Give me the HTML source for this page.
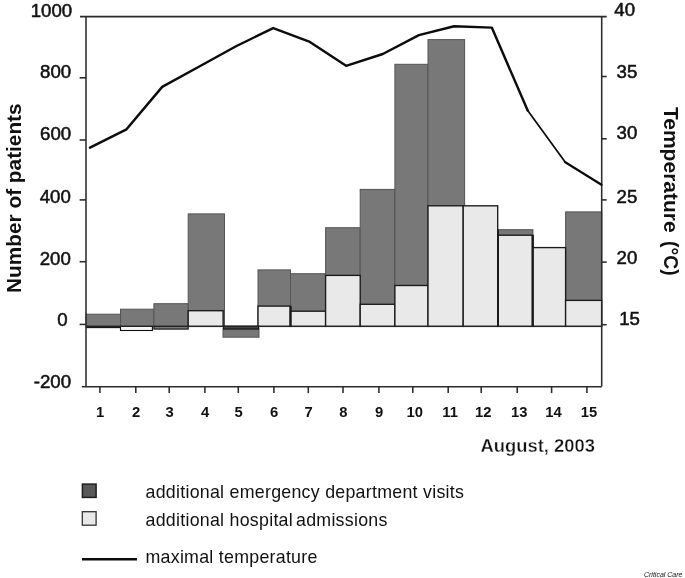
<!DOCTYPE html>
<html lang="en"><head><meta charset="utf-8"><title>Heat wave August 2003</title>
<style>html,body{margin:0;padding:0;background:#fff}svg{display:block;will-change:transform}text{font-family:"Liberation Sans",sans-serif;fill:#111}</style>
</head><body>
<svg width="685" height="578" viewBox="0 0 685 578">
<rect x="0" y="0" width="685" height="578" fill="#fff"/>
<g fill="#787878" stroke="#545454" stroke-width="1">
<rect x="86.0" y="314.2" width="34.5" height="12.2"/>
<rect x="120.5" y="309.2" width="33.4" height="17.2"/>
<rect x="153.9" y="303.7" width="34.3" height="22.7"/>
<rect x="188.2" y="213.9" width="36.3" height="112.5"/>
<rect x="258.0" y="269.9" width="32.5" height="56.5"/>
<rect x="290.5" y="273.7" width="35.1" height="52.7"/>
<rect x="325.6" y="227.7" width="34.6" height="98.7"/>
<rect x="360.2" y="189.4" width="34.7" height="137.0"/>
<rect x="394.9" y="64.3" width="33.1" height="262.1"/>
<rect x="428.0" y="39.6" width="36.6" height="286.8"/>
<rect x="497.7" y="229.7" width="35.2" height="96.7"/>
<rect x="565.6" y="211.9" width="36.1" height="114.5"/>
<rect x="223.0" y="329.0" width="36.0" height="8.2"/>
</g>
<g fill="#e9e9e9" stroke="#1a1a1a" stroke-width="1.35">
<rect x="188.2" y="310.7" width="34.9" height="15.7"/>
<rect x="258.0" y="306.1" width="32.5" height="20.3"/>
<rect x="290.5" y="311.2" width="35.1" height="15.2"/>
<rect x="325.6" y="275.4" width="34.6" height="51.0"/>
<rect x="360.2" y="304.3" width="34.7" height="22.1"/>
<rect x="394.9" y="285.5" width="33.1" height="40.9"/>
<rect x="428.0" y="205.8" width="35.2" height="120.6"/>
<rect x="463.2" y="205.8" width="34.5" height="120.6"/>
<rect x="497.7" y="235.2" width="35.2" height="91.2"/>
<rect x="532.9" y="247.6" width="32.7" height="78.8"/>
<rect x="565.6" y="300.4" width="36.1" height="26.0"/>
</g>
<line x1="532.6" y1="235.2" x2="532.6" y2="326.4" stroke="#1a1a1a" stroke-width="2.3"/>
<line x1="498.0" y1="229.7" x2="498.0" y2="326.4" stroke="#1a1a1a" stroke-width="2.0"/>
<line x1="290.5" y1="306.1" x2="290.5" y2="326.4" stroke="#1a1a1a" stroke-width="2.3"/>
<g stroke="#111" stroke-width="1.1">
<rect x="86.5" y="326.4" width="34.0" height="1.2" fill="#555"/>
<rect x="120.5" y="326.4" width="31.9" height="4.1" fill="#f6f6f6"/>
<rect x="153.9" y="326.4" width="34.3" height="2.7" fill="#787878"/>
<rect x="223.4" y="326.1" width="35.2" height="2.9" fill="#444"/>
</g>
<line x1="86.0" y1="326.4" x2="601.7" y2="326.4" stroke="#222" stroke-width="1.3"/>
<g stroke="#2b2b2b" stroke-width="1.55" fill="none">
<line x1="80.0" y1="16.6" x2="606.7" y2="16.6"/>
<line x1="81.8" y1="386.8" x2="601.7" y2="386.8"/>
<line x1="86.0" y1="16.6" x2="86.0" y2="386.6"/>
<line x1="601.7" y1="16.6" x2="601.7" y2="386.6"/>
<line x1="79.6" y1="77.8" x2="86.0" y2="77.8"/>
<line x1="79.6" y1="140.0" x2="86.0" y2="140.0"/>
<line x1="79.6" y1="199.9" x2="86.0" y2="199.9"/>
<line x1="79.6" y1="261.7" x2="86.0" y2="261.7"/>
<line x1="79.6" y1="324.4" x2="86.0" y2="324.4"/>
<line x1="601.7" y1="76.5" x2="606.7" y2="76.5"/>
<line x1="601.7" y1="138.8" x2="606.7" y2="138.8"/>
<line x1="601.7" y1="199.9" x2="606.7" y2="199.9"/>
<line x1="601.7" y1="262.1" x2="606.7" y2="262.1"/>
<line x1="601.7" y1="324.7" x2="606.7" y2="324.7"/>
<line x1="99.9" y1="386.6" x2="99.9" y2="393.1"/>
<line x1="135.8" y1="386.6" x2="135.8" y2="393.1"/>
<line x1="169.2" y1="386.6" x2="169.2" y2="393.1"/>
<line x1="204.9" y1="386.6" x2="204.9" y2="393.1"/>
<line x1="238.3" y1="386.6" x2="238.3" y2="393.1"/>
<line x1="273.9" y1="386.6" x2="273.9" y2="393.1"/>
<line x1="308.3" y1="386.6" x2="308.3" y2="393.1"/>
<line x1="343.0" y1="386.6" x2="343.0" y2="393.1"/>
<line x1="378.9" y1="386.6" x2="378.9" y2="393.1"/>
<line x1="412.8" y1="386.6" x2="412.8" y2="393.1"/>
<line x1="448.2" y1="386.6" x2="448.2" y2="393.1"/>
<line x1="481.2" y1="386.6" x2="481.2" y2="393.1"/>
<line x1="517.2" y1="386.6" x2="517.2" y2="393.1"/>
<line x1="551.6" y1="386.6" x2="551.6" y2="393.1"/>
<line x1="586.9" y1="386.6" x2="586.9" y2="393.1"/>
</g>
<polyline points="90.0,147.6 126.5,129.3 162.2,86.9 199.3,66.5 236.5,46.0 273.2,28.1 309.9,41.9 346.1,65.8 382.8,54.0 418.9,35.1 454.1,26.3 491.8,27.6 527.7,110.5" fill="none" stroke="#0c0c0c" stroke-width="2.45" stroke-linejoin="round" stroke-linecap="round"/>
<polyline points="527.7,110.5 565.3,162.2" fill="none" stroke="#0c0c0c" stroke-width="1.75" stroke-linejoin="round" stroke-linecap="round"/>
<polyline points="565.3,162.2 601.5,184.8" fill="none" stroke="#0c0c0c" stroke-width="2.20" stroke-linejoin="round" stroke-linecap="round"/>
<g font-size="17.6" text-anchor="end" stroke="#111" stroke-width="0.5">
<text transform="translate(72.2,16.6) scale(1.06,1)">1000</text>
<text transform="translate(71.2,77.7) scale(1.06,1)">800</text>
<text transform="translate(71.2,140.0) scale(1.06,1)">600</text>
<text transform="translate(70.8,203.4) scale(1.06,1)">400</text>
<text transform="translate(70.8,264.8) scale(1.06,1)">200</text>
<text transform="translate(67.6,325.9) scale(1.06,1)">0</text>
<text transform="translate(71.0,387.5) scale(1.06,1)">-200</text>
</g>
<g font-size="17.6" stroke="#111" stroke-width="0.5">
<text transform="translate(614.3,16.0) scale(1.06,1)">40</text>
<text transform="translate(616.6,77.7) scale(1.06,1)">35</text>
<text transform="translate(616.6,139.4) scale(1.06,1)">30</text>
<text transform="translate(616.6,202.7) scale(1.06,1)">25</text>
<text transform="translate(616.6,263.9) scale(1.06,1)">20</text>
<text transform="translate(619.2,325.2) scale(1.06,1)">15</text>
</g>
<g font-size="14.8" font-weight="bold" text-anchor="middle">
<text x="100.2" y="417.2">1</text>
<text x="136.1" y="417.2">2</text>
<text x="169.5" y="417.2">3</text>
<text x="205.2" y="417.2">4</text>
<text x="238.6" y="417.2">5</text>
<text x="274.2" y="417.2">6</text>
<text x="308.6" y="417.2">7</text>
<text x="343.3" y="417.2">8</text>
<text x="379.2" y="417.2">9</text>
<text x="414.8" y="417.2">10</text>
<text x="450.2" y="417.2">11</text>
<text x="483.2" y="417.2">12</text>
<text x="519.2" y="417.2">13</text>
<text x="553.6" y="417.2">14</text>
<text x="588.9" y="417.2">15</text>
</g>
<text x="594.9" y="452.3" font-size="18.4" font-weight="bold" text-anchor="end" stroke="#fff" stroke-width="0.35">August, 2003</text>
<text transform="translate(21.4,292.9) rotate(-90)" font-size="20.8" font-weight="bold">Number of patients</text>
<text transform="translate(664,107.0) rotate(90)" font-size="21.0" font-weight="bold">Temperature <tspan dx="2.6" font-size="19.3">(°C)</tspan></text>
<rect x="82.4" y="484.1" width="13.7" height="13.3" fill="#585858" stroke="#1e1e1e" stroke-width="1.5"/>
<rect x="82.3" y="511.7" width="13.8" height="13.5" fill="#e9e9e9" stroke="#333" stroke-width="1.3"/>
<line x1="82" y1="559.3" x2="137" y2="559.3" stroke="#0c0c0c" stroke-width="2.6"/>
<g font-size="17.8" letter-spacing="0.27" fill="#333">
<text x="145.5" y="498.3">additional emergency department visits</text>
<text x="145.5" y="525.6">additional hospital <tspan dx="-2.2">admissions</tspan></text>
<text x="145.5" y="563.1">maximal temperature</text>
</g>
<text x="682.5" y="577" font-size="7" font-style="italic" text-anchor="end" fill="#333">Critical Care</text>
</svg>
</body></html>
